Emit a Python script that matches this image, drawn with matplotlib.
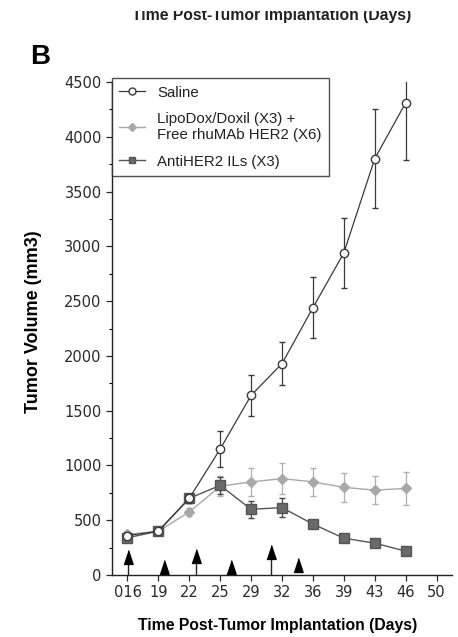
import matplotlib
matplotlib.use("Agg")
import matplotlib.pyplot as plt
from matplotlib.lines import Line2D
from matplotlib.patches import Rectangle

plt.rcParams['font.family'] = ['Liberation Sans', 'DejaVu Sans']

days = ["016", "19", "22", "25", "29", "32", "36", "39", "43", "46", "50"]

saline = [360, 400, 700, 1150, 1640, 1930, 2440, 2940, 3800, 4310]
saline_err = [30, 25, 40, 160, 190, 200, 280, 320, 450, 520]

lipo = [370, 400, 575, 810, 850, 880, 850, 800, 775, 790]
lipo_err = [25, 25, 40, 90, 130, 140, 130, 130, 130, 150]

anti = [340, 400, 700, 818, 600, 615, 465, 336, 291, 218]
anti_err = [25, 25, 40, 80, 80, 90, 40, 25, 25, 20]

# dosing arrows (index position along the day axis, tip height)
big_arrow_pos = [0.02, 2.22, 4.64]
big_arrow_tip = [236, 245, 282]
small_arrow_pos = [1.19, 3.36, 5.52]
small_arrow_tip = [145, 140, 155]

fig = plt.figure(figsize=(4.58, 6.37), dpi=100)
ax = fig.add_axes([0.2445, 0.0973, 0.7425, 0.774])

x = list(range(len(saline)))

ax.errorbar(x, lipo, yerr=lipo_err, color='#a8a8a8', ecolor='#b0b0b0',
            elinewidth=0.9, capsize=2.5, lw=1.0, marker='D', ms=5.5,
            mfc='#a8a8a8', mec='#a8a8a8', zorder=3)
ax.errorbar(x, anti, yerr=anti_err, color='#555555', ecolor='#444444',
            elinewidth=0.9, capsize=2.5, lw=1.0, marker='s', ms=6.5,
            mfc='#6a6a6a', mec='#555555', zorder=4)
ax.errorbar(x, saline, yerr=saline_err, color='#3a3a3a', ecolor='#3a3a3a',
            elinewidth=0.9, capsize=2.5, lw=0.9, marker='o', ms=6,
            mfc='white', mec='#3a3a3a', zorder=5)

tri = [(-4, -6), (4, -6), (0, 6)]
for p, t in zip(big_arrow_pos, big_arrow_tip):
    ax.vlines(p, 0, t - 95, color='#222222', lw=1.0, zorder=2)
    ax.plot(p, t - 68, marker=tri, ms=10, color='black', zorder=2)
for p, t in zip(small_arrow_pos, small_arrow_tip):
    ax.plot(p, t - 68, marker=tri, ms=10, color='black', zorder=2)

ax.set_xlim(-0.5, 10.5)
ax.set_ylim(0, 4500)
ax.set_xticks(range(len(days)))
ax.set_xticklabels(days)
ax.set_yticks(range(0, 4501, 500))
ax.set_yticks(range(250, 4500, 500), minor=True)
ax.spines['top'].set_visible(False)
ax.spines['right'].set_visible(False)
for s in ('left', 'bottom'):
    ax.spines[s].set_linewidth(1.0)
    ax.spines[s].set_color('#222222')
ax.tick_params(axis='both', labelsize=10.5, colors='#2a2a2a', length=4, width=0.9)
ax.tick_params(axis='y', which='minor', length=2.5, width=0.8)
for lab in ax.get_xticklabels() + ax.get_yticklabels():
    lab.set_family(['DejaVu Sans'])

ax.set_xlabel('Time Post-Tumor Implantation (Days)', fontsize=11.3, fontweight='bold')
ax.xaxis.set_label_coords(0.487, -0.103)
ax.xaxis.label.set_va('center')
ax.set_ylabel('Tumor Volume (mm3)', fontsize=13, fontweight='bold')
ax.yaxis.set_label_coords(-0.232, 0.513)
ax.yaxis.label.set_va('center')

handles = [
    Line2D([], [], color='#3a3a3a', lw=0.9, marker='o', ms=5, mfc='white', mec='#3a3a3a'),
    Line2D([], [], color='#a8a8a8', lw=1.0, marker='D', ms=4, mfc='#a8a8a8', mec='#a8a8a8'),
    Line2D([], [], color='#555555', lw=1.0, marker='s', ms=5, mfc='#6a6a6a', mec='#555555'),
]
labels = ['Saline', 'LipoDox/Doxil (X3) +\nFree rhuMAb HER2 (X6)', 'AntiHER2 ILs (X3)']
leg = ax.legend(handles, labels, loc='upper left', bbox_to_anchor=(0.0, 1.008),
                fontsize=10.8, frameon=True, fancybox=False, edgecolor='#222222',
                handlelength=1.7, handletextpad=0.8, borderpad=0.5,
                labelspacing=0.85, borderaxespad=0.0)
leg.get_frame().set_linewidth(1.0)
for t in leg.get_texts():
    t.set_color('#222222')
    t.set_linespacing(1.15)

fig.text(0.065, 0.91, 'B', fontsize=20, fontweight='bold', ha='left', va='center')
fig.text(0.592, 1 - 20 / 637, 'Time Post-Tumor Implantation (Days)', fontsize=11.3,
         fontweight='bold', ha='center', va='baseline', color='#222222')
fig.patches.append(Rectangle((0, 1 - 11 / 637), 1, 11 / 637, transform=fig.transFigure,
                             facecolor='white', edgecolor='none', zorder=10))

fig.savefig('out.png', dpi=100)
